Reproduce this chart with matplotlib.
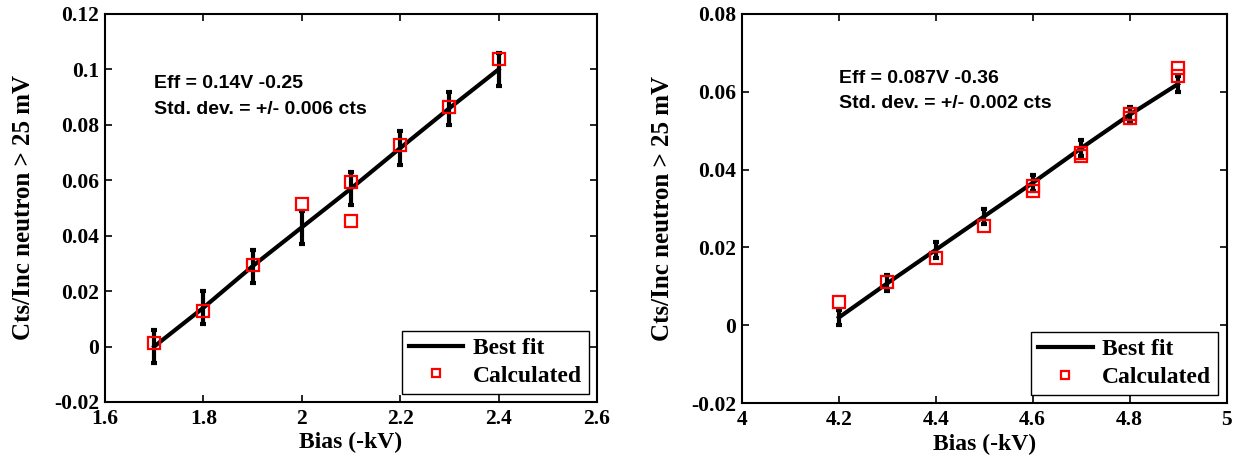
import numpy as np
import matplotlib.pyplot as plt

# panneau gauche
bias_a = [1.7, 1.8, 1.9, 2.0, 2.1, 2.2, 2.3, 2.4]
fit_a = [0.000, 0.014, 0.029, 0.043, 0.057, 0.0716, 0.086, 0.100]
err_a = [0.006] * 8
calc_x_a = [1.7, 1.8, 1.9, 2.0, 2.1, 2.1, 2.2, 2.3, 2.4]
calc_y_a = [0.0012, 0.0128, 0.0293, 0.0515, 0.0593, 0.0452, 0.0728, 0.0865, 0.1036]

# panneau droit
bias_b = [4.2, 4.3, 4.4, 4.5, 4.6, 4.7, 4.8, 4.9]
fit_b = [0.0020, 0.0108, 0.0194, 0.0280, 0.0366, 0.0455, 0.0541, 0.0620]
err_b = [0.002] * 8
calc_x_b = [4.2, 4.3, 4.4, 4.5, 4.6, 4.6, 4.7, 4.7, 4.8, 4.8, 4.9, 4.9]
calc_y_b = [0.0060, 0.0111, 0.0173, 0.0256, 0.0359, 0.0346, 0.0444, 0.0436, 0.0543, 0.0532, 0.0662, 0.0641]

serif = 'Liberation Serif'
sans = 'Liberation Sans'

fig = plt.figure(figsize=(12.49, 4.65), dpi=100)
ax1 = fig.add_axes([0.084, 0.1355, 0.394, 0.8345])
ax2 = fig.add_axes([0.594, 0.133, 0.388, 0.837])

panels = [
    (ax1, bias_a, fit_a, err_a, calc_x_a, calc_y_a, (1.6, 2.6), (-0.02, 0.12),
     np.arange(1.6, 2.61, 0.2), np.arange(-0.02, 0.121, 0.02),
     ['Eff = 0.14V -0.25', 'Std. dev. = +/- 0.006 cts'], (0.10, 0.82, 0.753), -0.165),
    (ax2, bias_b, fit_b, err_b, calc_x_b, calc_y_b, (4.0, 5.0), (-0.02, 0.08),
     np.arange(4.0, 5.01, 0.2), np.arange(-0.02, 0.081, 0.02),
     ['Eff = 0.087V -0.36', 'Std. dev. = +/- 0.002 cts'], (0.20, 0.833, 0.769), -0.163),
]

for ax, x, fit, err, cx, cy, xl, yl, xt, yt, txt, pos, ylx in panels:
    ax.errorbar(x, fit, yerr=err, fmt='none', ecolor='black', elinewidth=3,
                capsize=2.5, capthick=3, zorder=2)
    ax.plot(x, fit, color='black', lw=3, label='Best fit', zorder=3)
    ax.plot(cx, cy, 's', mfc='none', mec='red', mew=1.6, ms=8,
            label='Calculated', zorder=4)
    ax.set_xlim(xl)
    ax.set_ylim(yl)
    ax.set_xticks(xt)
    ax.set_yticks(yt)
    ax.set_xticklabels(['%g' % round(v, 2) for v in xt])
    ax.set_yticklabels(['%g' % round(v, 2) for v in yt])
    ax.tick_params(direction='in', top=True, right=True, length=5, width=1.2,
                   labelsize=15.5, pad=4)
    ax.tick_params(axis='x', pad=5)
    for lab in ax.get_xticklabels() + ax.get_yticklabels():
        lab.set_fontfamily(serif)
        lab.set_fontweight('bold')
    for s in ax.spines.values():
        s.set_linewidth(1.5)
    ax.set_xlabel('Bias (-kV)', fontsize=17, fontweight='bold', family=serif, va='center')
    ax.xaxis.set_label_coords(0.5, -0.105)
    ax.set_ylabel('Cts/Inc neutron > 25 mV', fontsize=18, fontweight='bold', family=serif,
                  va='center')
    ax.yaxis.set_label_coords(ylx, 0.5)
    ax.text(pos[0], pos[1], txt[0], transform=ax.transAxes, fontsize=14,
            fontweight='bold', family=sans, va='center')
    ax.text(pos[0], pos[2], txt[1], transform=ax.transAxes, fontsize=14,
            fontweight='bold', family=sans, va='center')
    leg = ax.legend(loc='lower right', prop={'family': serif, 'weight': 'bold', 'size': 17},
                    fancybox=False, edgecolor='black', framealpha=1, handlelength=2.3,
                    borderaxespad=0.35, handletextpad=0.4, labelspacing=0.25,
                    borderpad=0.3, markerscale=0.75)
    leg.get_frame().set_linewidth(1.0)

fig.savefig('out.png', dpi=100)
